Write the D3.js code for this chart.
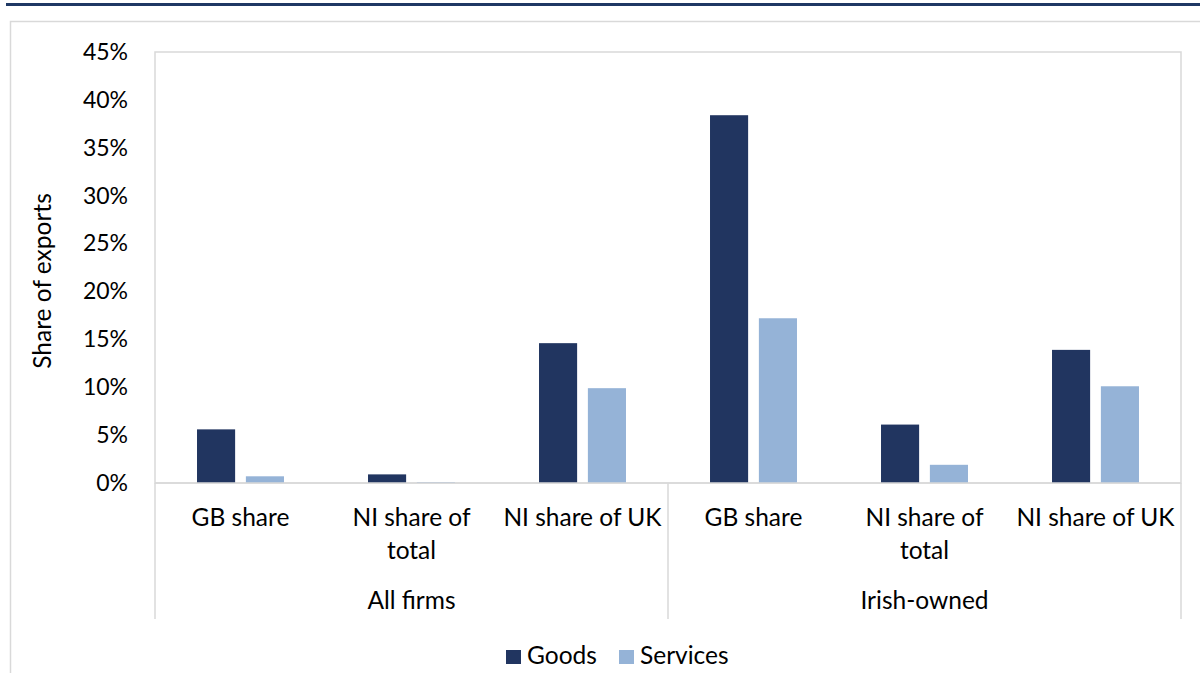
<!DOCTYPE html>
<html>
<head>
<meta charset="utf-8">
<script src="https://cdn.jsdelivr.net/npm/d3@7"></script>
<style>
  body { margin: 0; background: #fff; }
  text { font-family: Lato, "Open Sans", sans-serif; fill: #000; }
</style>
</head>
<body>
<div id="chart"></div>
<script>
// data
var groups = ["All firms", "Irish-owned"];
var categories = ["GB share", "NI share of total", "NI share of UK"];
var series = ["Goods", "Services"];
var goods = [5.6, 0.9, 14.6, 38.4, 6.1, 13.9];
var services = [0.7, 0.1, 9.9, 17.2, 1.9, 10.1];
var yTicks = [0, 5, 10, 15, 20, 25, 30, 35, 40, 45];
var colors = ["#213560", "#95b3d7"];

var W = 1200, H = 673;
var margin = {top: 52, left: 155, right: 19, bottom: 190};
var width = W - margin.left - margin.right,
    height = H - margin.top - margin.bottom;
var fs = "24.5px";

var svg = d3.select("#chart")
  .append("svg")
    .attr("width", W)
    .attr("height", H);

// top rule and outer frame
svg.append("rect")
  .attr("x", 6).attr("y", 3).attr("width", W).attr("height", 3)
  .attr("fill", "#1f3864");
svg.append("rect")
  .attr("x", 10.5).attr("y", 21.5).attr("width", W).attr("height", H)
  .attr("fill", "none").attr("stroke", "#d9d9d9").attr("stroke-width", 1.5);

var g = svg.append("g")
  .attr("transform", "translate(" + margin.left + "," + margin.top + ")");

// build rows
var rows = [];
groups.forEach(function(grp, gi) {
  categories.forEach(function(cat, ci) {
    var i = gi * categories.length + ci;
    rows.push({key: grp + "|" + cat, group: grp, cat: cat, values: [goods[i], services[i]]});
  });
});

var x0 = d3.scaleBand()
  .domain(rows.map(function(d) { return d.key; }))
  .range([0, width]);

var x1 = d3.scaleBand()
  .domain(series)
  .range([0, x0.bandwidth()])
  .paddingInner(0.22)
  .paddingOuter(0.86);

var y = d3.scaleLinear()
  .domain([0, 45])
  .range([height, 0]);

// plot frame
g.append("rect")
  .attr("width", width).attr("height", height)
  .attr("fill", "none").attr("stroke", "#d9d9d9").attr("stroke-width", 1.5);

// Y axis
var yAxis = g.append("g")
  .call(d3.axisLeft(y).tickValues(yTicks).tickSize(0).tickPadding(27)
    .tickFormat(function(d) { return d + "%"; }));
yAxis.select(".domain").remove();
yAxis.selectAll("text")
  .style("font-family", "Lato, 'Open Sans', sans-serif")
  .style("font-size", "23px")
  .attr("fill", "#000");

// bars
var cat = g.selectAll(".cat")
  .data(rows)
  .enter().append("g")
    .attr("transform", function(d) { return "translate(" + x0(d.key) + ",0)"; });

cat.selectAll("rect")
  .data(function(d) { return series.map(function(s, i) { return {s: s, v: d.values[i], i: i}; }); })
  .enter().append("rect")
    .attr("x", function(d) { return x1(d.s); })
    .attr("y", function(d) { return y(d.v); })
    .attr("width", x1.bandwidth())
    .attr("height", function(d) { return height - y(d.v); })
    .attr("fill", function(d) { return colors[d.i]; });

// category axis lines
var sepBottom = 136;
var groupW = x0.step() * categories.length;
d3.range(groups.length + 1).forEach(function(i) {
  g.append("line")
    .attr("x1", i * groupW).attr("x2", i * groupW)
    .attr("y1", height).attr("y2", height + sepBottom)
    .attr("stroke", "#d9d9d9").attr("stroke-width", 1.5);
});
g.append("line")
  .attr("x1", 0).attr("x2", width)
  .attr("y1", y(0)).attr("y2", y(0))
  .attr("stroke", "#d9d9d9").attr("stroke-width", 1.5);

// category labels (wrapped)
cat.each(function(d) {
  var t = d3.select(this).append("text")
    .attr("x", x0.bandwidth() / 2)
    .attr("y", height + 43)
    .attr("text-anchor", "middle")
    .style("font-size", fs);
  var words = d.cat.split(" "), line = [];
  var tspan = t.append("tspan").attr("x", x0.bandwidth() / 2).attr("dy", 0);
  words.forEach(function(w) {
    line.push(w);
    tspan.text(line.join(" "));
    if (tspan.node().getComputedTextLength() > x0.bandwidth() - 6 && line.length > 1) {
      line.pop();
      tspan.text(line.join(" "));
      line = [w];
      tspan = t.append("tspan").attr("x", x0.bandwidth() / 2).attr("dy", 33).text(w);
    }
  });
});

// group labels
g.selectAll(".grp")
  .data(groups)
  .enter().append("text")
    .attr("x", function(d, i) { return i * groupW + groupW / 2; })
    .attr("y", height + 126)
    .attr("text-anchor", "middle")
    .style("font-size", fs)
    .text(function(d) { return d; });

// y label
svg.append("text")
  .attr("transform", "translate(51,281) rotate(-90)")
  .attr("text-anchor", "middle")
  .style("font-size", fs)
  .text("Share of exports");

// legend
var legend = svg.append("g").attr("transform", "translate(506,650)");
var lx = [0, 113];
series.forEach(function(s, i) {
  legend.append("rect")
    .attr("x", lx[i]).attr("y", 0).attr("width", 15).attr("height", 14)
    .attr("fill", colors[i]);
  legend.append("text")
    .attr("x", lx[i] + 21).attr("y", 14)
    .style("font-size", fs)
    .text(s);
});
</script>
</body>
</html>
